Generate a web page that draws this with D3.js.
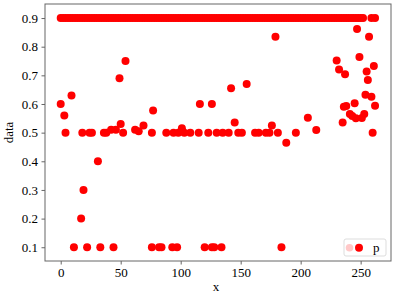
<!DOCTYPE html>
<html>
<head>
<meta charset="utf-8">
<script src="https://cdn.jsdelivr.net/npm/d3@7"></script>
<style>
  body { margin: 0; background: #fff; }
  svg text { font-family: "Liberation Serif", "Times New Roman", serif; }
</style>
</head>
<body>
<svg id="chart" width="394" height="301"></svg>
<script>
// Werte der oberen Reihe (y = 0.9)
const topRowX = [0, 2, 4, 6, 8, 10, 12, 14, 16, 18, 20, 22, 24, 26, 28, 30, 32, 34, 36, 38,
  40, 42, 44, 46, 48, 50, 52, 54, 56, 58, 60, 62, 64, 66, 68, 70, 72, 74, 76, 78,
  80, 82, 84, 86, 88, 90, 92, 94, 96, 98, 100, 102, 104, 106, 108, 110, 112, 114, 116, 118,
  120, 122, 124, 126, 128, 130, 132, 134, 136, 138, 140, 142, 144, 146, 148, 150, 152, 154, 156, 158,
  160, 162, 164, 166, 168, 170, 172, 174, 176, 178, 180, 182, 184, 186, 188, 190, 192, 194, 196, 198,
  200, 202, 204, 206, 208, 210, 212, 214, 216, 218, 220, 222, 224, 226, 228, 230, 232, 234, 236, 238,
  240, 242, 244, 246, 248, 250, 252, 259, 262];
const topRowY = 0.9;

// übrige Punkte
const otherX = [0, 3, 4, 9, 11, 17, 18, 19, 22, 24, 26, 31, 33, 36, 38, 42, 44, 46, 49, 50,
  52, 54, 62, 65, 69, 76, 76, 77, 82, 84, 88, 93, 94, 97, 98, 101, 103, 108, 115, 116,
  120, 123, 126, 126, 128, 130, 134, 135, 140, 142, 145, 148, 151, 155, 162, 165, 171, 174, 176, 179,
  181, 184, 188, 196, 206, 213, 230, 232, 235, 236, 237, 238, 241, 243, 245, 246, 247, 249, 251, 253,
  254, 255, 256, 257, 259, 260, 261, 262];
const otherY = [0.60, 0.56, 0.50, 0.63, 0.10, 0.20, 0.50, 0.30, 0.10, 0.50, 0.50, 0.40, 0.10, 0.50, 0.50, 0.51, 0.10, 0.51, 0.69, 0.53,
  0.50, 0.75, 0.51, 0.505, 0.525, 0.10, 0.50, 0.577, 0.10, 0.10, 0.50, 0.10, 0.50, 0.10, 0.50, 0.515, 0.50, 0.50, 0.50, 0.60,
  0.10, 0.50, 0.10, 0.60, 0.10, 0.50, 0.10, 0.50, 0.50, 0.655, 0.535, 0.50, 0.50, 0.67, 0.50, 0.50, 0.50, 0.50, 0.525, 0.835,
  0.50, 0.10, 0.465, 0.50, 0.552, 0.509, 0.752, 0.72, 0.535, 0.59, 0.704, 0.593, 0.565, 0.558, 0.603, 0.55, 0.862, 0.764, 0.551, 0.565,
  0.632, 0.713, 0.684, 0.835, 0.625, 0.50, 0.733, 0.594];

const xTicks = [0, 50, 100, 150, 200, 250];
const yTicks = [0.1, 0.2, 0.3, 0.4, 0.5, 0.6, 0.7, 0.8, 0.9];
const seriesName = "p";

const svg = d3.select("#chart");
const plot = { left: 45, right: 391, top: 4, bottom: 261 };

const x = d3.scaleLinear().domain([-13.1, 275.3]).range([plot.left, plot.right]);
const y = d3.scaleLinear().domain([0.052, 0.949]).range([plot.bottom, plot.top]);

const points = topRowX.map(v => ({ x: v, y: topRowY }))
  .concat(otherX.map((v, i) => ({ x: v, y: otherY[i] })));

svg.append("g")
  .selectAll("circle")
  .data(points)
  .join("circle")
  .attr("cx", d => x(d.x))
  .attr("cy", d => y(d.y))
  .attr("r", 4)
  .attr("fill", "#ff0000");

// Rahmen
svg.append("rect")
  .attr("x", plot.left)
  .attr("y", plot.top)
  .attr("width", plot.right - plot.left)
  .attr("height", plot.bottom - plot.top)
  .attr("fill", "none")
  .attr("stroke", "#666")
  .attr("stroke-width", 1);

const xAxis = svg.append("g")
  .attr("transform", `translate(0,${plot.bottom})`)
  .call(d3.axisBottom(x).tickValues(xTicks).tickSize(3.5).tickPadding(3.5).tickFormat(d3.format("d")));
const yAxis = svg.append("g")
  .attr("transform", `translate(${plot.left},0)`)
  .call(d3.axisLeft(y).tickValues(yTicks).tickSize(3.5).tickPadding(3.5).tickFormat(d3.format(".1f")));

[xAxis, yAxis].forEach(g => {
  g.select(".domain").remove();
  g.selectAll(".tick line").attr("stroke", "#666");
  g.selectAll(".tick text").attr("fill", "#000").style("font-size", "13px");
});

svg.append("text")
  .attr("x", (plot.left + plot.right) / 2 - 2)
  .attr("y", 291)
  .attr("text-anchor", "middle")
  .style("font-size", "13px")
  .text("x");

svg.append("text")
  .attr("transform", `translate(13,${(plot.top + plot.bottom) / 2}) rotate(-90)`)
  .attr("text-anchor", "middle")
  .style("font-size", "13px")
  .text("data");

// Legende
const legend = svg.append("g");
legend.append("rect")
  .attr("x", 344).attr("y", 239)
  .attr("width", 42).attr("height", 17)
  .attr("rx", 2)
  .attr("fill", "#fff")
  .attr("fill-opacity", 0.8)
  .attr("stroke", "#ddd");
legend.append("circle").attr("cx", 349.5).attr("cy", 247.7).attr("r", 3.8).attr("fill", "#ffc8c8");
legend.append("circle").attr("cx", 359).attr("cy", 247.7).attr("r", 4).attr("fill", "#ff0000");
legend.append("text")
  .attr("x", 373).attr("y", 252)
  .style("font-size", "13px")
  .text(seriesName);
</script>
</body>
</html>
